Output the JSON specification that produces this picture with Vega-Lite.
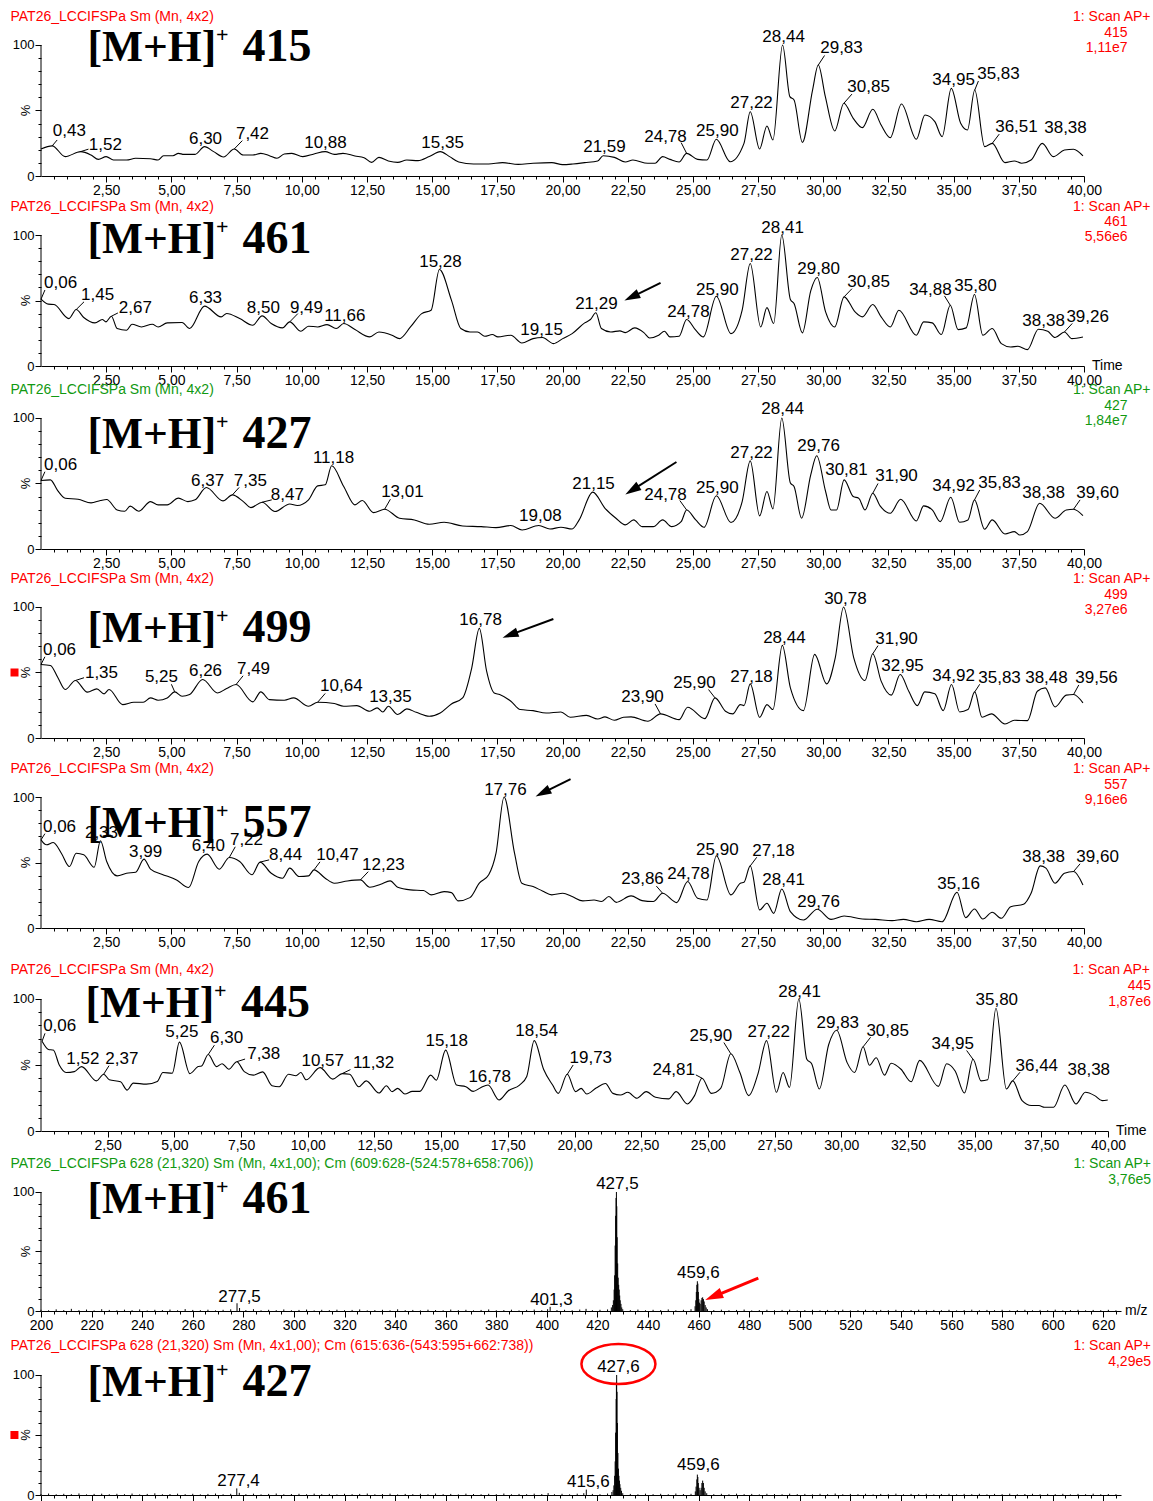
{
"$schema": "https://vega.github.io/schema/vega-lite/v6.json",
"background": "white",
"padding": {"left": 10, "top": 5, "right": 0, "bottom": 0},
"bounds": "flush",
"spacing": 30,
"config": {"view": {"stroke": null}, "axis": {"labelFont": "Liberation Sans", "labelColor": "black", "tickColor": "black", "domainColor": "black", "grid": false, "title": null, "tickCount": 1000}, "text": {"font": "Liberation Sans", "color": "black"}},
"datasets": {
"c1": [{"t":0,"v":20.6},{"t":0.43,"v":23},{"t":0.93,"v":14.8},{"t":1.52,"v":18.6},{"t":1.92,"v":16},{"t":2.2,"v":12.7},{"t":2.5,"v":14.8},{"t":2.78,"v":12.2},{"t":3.28,"v":12.2},{"t":3.63,"v":13.5},{"t":4.2,"v":13.2},{"t":4.49,"v":12.2},{"t":4.7,"v":15.5},{"t":5.06,"v":15.5},{"t":5.27,"v":17.3},{"t":5.48,"v":16.5},{"t":5.91,"v":16.5},{"t":6.27,"v":22.4},{"t":6.62,"v":18.6},{"t":7.0,"v":14.5},{"t":7.41,"v":20.6},{"t":7.76,"v":16},{"t":8.12,"v":16},{"t":8.43,"v":17.3},{"t":8.76,"v":15.5},{"t":9.05,"v":13.5},{"t":9.33,"v":16.8},{"t":9.62,"v":17.3},{"t":10.04,"v":14.8},{"t":10.47,"v":16.8},{"t":10.9,"v":18.6},{"t":11.25,"v":16.5},{"t":11.58,"v":17.3},{"t":12.04,"v":15.3},{"t":12.39,"v":14},{"t":12.68,"v":10.4},{"t":12.96,"v":14.2},{"t":13.32,"v":11.5},{"t":13.68,"v":10.4},{"t":14.03,"v":12.2},{"t":14.46,"v":11.7},{"t":14.89,"v":14.8},{"t":15.31,"v":18.6},{"t":15.67,"v":14.8},{"t":16.02,"v":10.7},{"t":16.59,"v":9.2},{"t":17.17,"v":9.2},{"t":17.7,"v":10.2},{"t":18.3,"v":8.9},{"t":18.87,"v":9.7},{"t":19.59,"v":10.2},{"t":20.0,"v":8.7},{"t":20.4,"v":9.2},{"t":20.85,"v":10.2},{"t":21.35,"v":11.5},{"t":21.56,"v":15.5},{"t":21.99,"v":14.2},{"t":22.41,"v":10.7},{"t":22.7,"v":12.2},{"t":23.27,"v":9.7},{"t":23.55,"v":9.7},{"t":23.84,"v":14.8},{"t":24.12,"v":12.7},{"t":24.47,"v":10.7},{"t":24.76,"v":17.3},{"t":25.18,"v":12.7},{"t":25.54,"v":12.2},{"t":25.9,"v":28},{"t":26.43,"v":10.9},{"t":26.96,"v":24.9},{"t":27.2,"v":49.1},{"t":27.56,"v":20.6},{"t":27.84,"v":38.2},{"t":28.07,"v":27.5},{"t":28.44,"v":100},{"t":28.72,"v":60.6},{"t":28.88,"v":58},{"t":29.2,"v":25.7},{"t":29.59,"v":65.6},{"t":29.81,"v":84.7},{"t":30.08,"v":60.6},{"t":30.44,"v":34.4},{"t":30.79,"v":55.5},{"t":31.15,"v":44},{"t":31.5,"v":36.9},{"t":31.9,"v":50.9},{"t":32.22,"v":38.9},{"t":32.57,"v":29.3},{"t":33.0,"v":55},{"t":33.57,"v":28},{"t":33.9,"v":46.6},{"t":34.28,"v":41.5},{"t":34.56,"v":30},{"t":34.91,"v":66.9},{"t":35.27,"v":40.2},{"t":35.53,"v":35.1},{"t":35.81,"v":65.6},{"t":36.19,"v":22.4},{"t":36.48,"v":24.9},{"t":36.97,"v":10.2},{"t":37.33,"v":11.5},{"t":37.61,"v":9.7},{"t":37.97,"v":12.2},{"t":38.4,"v":24.9},{"t":38.82,"v":14.8},{"t":39.25,"v":19.8},{"t":39.6,"v":20.4},{"t":39.96,"v":15.3}],
"c2": [{"t":0,"v":51},{"t":0.28,"v":47.2},{"t":0.5,"v":46.9},{"t":1.07,"v":36.2},{"t":1.35,"v":43.1},{"t":1.64,"v":37},{"t":2.07,"v":32.9},{"t":2.35,"v":35.5},{"t":2.49,"v":33.7},{"t":2.7,"v":38},{"t":2.92,"v":28.6},{"t":3.28,"v":27.3},{"t":3.49,"v":31.9},{"t":3.85,"v":29.8},{"t":4.27,"v":31.9},{"t":4.49,"v":29.8},{"t":4.84,"v":32.9},{"t":5.41,"v":33.2},{"t":5.7,"v":28.6},{"t":6.27,"v":45.7},{"t":6.91,"v":37.5},{"t":7.12,"v":40.1},{"t":7.62,"v":36.2},{"t":8.12,"v":31.1},{"t":8.48,"v":38.3},{"t":8.83,"v":32.4},{"t":9.26,"v":29.1},{"t":9.54,"v":33.7},{"t":9.97,"v":26.5},{"t":10.26,"v":30.4},{"t":10.61,"v":29.8},{"t":10.97,"v":31.6},{"t":11.32,"v":28.6},{"t":11.61,"v":32.4},{"t":12.04,"v":27.8},{"t":12.61,"v":22.2},{"t":12.96,"v":26},{"t":13.46,"v":23.5},{"t":13.75,"v":20.9},{"t":14.17,"v":29.8},{"t":14.6,"v":40},{"t":14.96,"v":42.6},{"t":15.28,"v":73.7},{"t":15.74,"v":50.3},{"t":16.1,"v":28.6},{"t":16.45,"v":26},{"t":16.74,"v":26},{"t":17.02,"v":22.7},{"t":17.31,"v":24},{"t":17.52,"v":22.2},{"t":18.02,"v":23.5},{"t":18.44,"v":17.6},{"t":18.87,"v":20.9},{"t":19.23,"v":21.7},{"t":19.66,"v":17.1},{"t":20.01,"v":20.9},{"t":20.37,"v":24.7},{"t":20.85,"v":32.9},{"t":21.07,"v":35.5},{"t":21.28,"v":40.6},{"t":21.49,"v":28.6},{"t":21.85,"v":26},{"t":22.2,"v":26.8},{"t":22.41,"v":25.5},{"t":22.77,"v":29.1},{"t":23.13,"v":25.3},{"t":23.34,"v":21.4},{"t":23.69,"v":23.5},{"t":23.91,"v":26.5},{"t":24.12,"v":22.2},{"t":24.47,"v":22.7},{"t":24.76,"v":35.5},{"t":25.11,"v":27.3},{"t":25.4,"v":22.2},{"t":25.9,"v":53.3},{"t":26.46,"v":24.7},{"t":26.89,"v":42.6},{"t":27.2,"v":78.3},{"t":27.6,"v":29.8},{"t":27.84,"v":44.6},{"t":28.1,"v":32.4},{"t":28.41,"v":100},{"t":28.74,"v":50.8},{"t":28.88,"v":47.7},{"t":29.2,"v":25.3},{"t":29.52,"v":57.4},{"t":29.77,"v":67.6},{"t":30.09,"v":41.3},{"t":30.44,"v":29.8},{"t":30.8,"v":52.8},{"t":31.22,"v":41.3},{"t":31.5,"v":37.5},{"t":31.9,"v":46.9},{"t":32.22,"v":37.5},{"t":32.57,"v":29.8},{"t":32.9,"v":42.6},{"t":33.57,"v":23.5},{"t":33.85,"v":33.7},{"t":34.18,"v":32.9},{"t":34.53,"v":24},{"t":34.87,"v":46.4},{"t":35.17,"v":27.8},{"t":35.48,"v":29.1},{"t":35.8,"v":54.6},{"t":36.12,"v":23.5},{"t":36.48,"v":28.6},{"t":36.83,"v":17.1},{"t":37.19,"v":14.5},{"t":37.47,"v":15.1},{"t":37.83,"v":12.5},{"t":38.25,"v":28.1},{"t":38.61,"v":26.5},{"t":38.89,"v":21.7},{"t":39.25,"v":26},{"t":39.53,"v":20.9},{"t":39.96,"v":22.2}],
"c3": [{"t":0,"v":52.3},{"t":0.36,"v":52.8},{"t":0.64,"v":44.6},{"t":0.93,"v":38.8},{"t":1.42,"v":38},{"t":1.92,"v":35.2},{"t":2.28,"v":37},{"t":2.52,"v":37.8},{"t":2.92,"v":29.8},{"t":3.21,"v":28.8},{"t":3.42,"v":32.7},{"t":3.75,"v":28.8},{"t":4.2,"v":36.2},{"t":4.49,"v":33.7},{"t":4.84,"v":33.7},{"t":5.27,"v":38.8},{"t":5.63,"v":36.2},{"t":5.91,"v":37.5},{"t":6.34,"v":46.9},{"t":6.98,"v":36.7},{"t":7.34,"v":41.3},{"t":7.76,"v":36.2},{"t":8.05,"v":31.6},{"t":8.48,"v":35.7},{"t":8.97,"v":28.6},{"t":9.54,"v":34.4},{"t":9.83,"v":33.2},{"t":10.26,"v":37.5},{"t":10.61,"v":48.2},{"t":10.9,"v":49},{"t":11.15,"v":63.5},{"t":11.61,"v":47.7},{"t":12.04,"v":33.7},{"t":12.32,"v":37},{"t":12.75,"v":27.8},{"t":13.18,"v":30.4},{"t":13.75,"v":23.5},{"t":14.32,"v":22.2},{"t":14.89,"v":18.9},{"t":15.46,"v":20.4},{"t":16.17,"v":17.6},{"t":16.88,"v":17.1},{"t":17.45,"v":16.3},{"t":18.02,"v":17.9},{"t":18.45,"v":14.5},{"t":19.09,"v":17.9},{"t":19.52,"v":15.3},{"t":19.94,"v":16.6},{"t":20.37,"v":15.3},{"t":20.64,"v":22.2},{"t":21.16,"v":43.4},{"t":21.63,"v":31.1},{"t":22.05,"v":23.5},{"t":22.41,"v":18.4},{"t":22.73,"v":22.2},{"t":23.05,"v":17.1},{"t":23.48,"v":17.1},{"t":23.84,"v":22.2},{"t":24.19,"v":17.1},{"t":24.55,"v":20.9},{"t":24.76,"v":29.8},{"t":25.11,"v":22.2},{"t":25.43,"v":16.6},{"t":25.9,"v":40.6},{"t":26.46,"v":20.2},{"t":26.89,"v":36.2},{"t":27.2,"v":67.3},{"t":27.56,"v":25.3},{"t":27.84,"v":43.9},{"t":28.07,"v":30.6},{"t":28.41,"v":100},{"t":28.74,"v":50.3},{"t":28.88,"v":47.7},{"t":29.17,"v":23.5},{"t":29.52,"v":56.6},{"t":29.75,"v":71.2},{"t":30.09,"v":43.9},{"t":30.3,"v":29.8},{"t":30.51,"v":29.8},{"t":30.8,"v":52.8},{"t":31.15,"v":40},{"t":31.36,"v":38.8},{"t":31.6,"v":29.8},{"t":31.9,"v":42.6},{"t":32.18,"v":32.9},{"t":32.57,"v":27.3},{"t":32.97,"v":38},{"t":33.57,"v":21.4},{"t":33.85,"v":32.9},{"t":34.18,"v":29.8},{"t":34.49,"v":20.9},{"t":34.89,"v":39.5},{"t":35.23,"v":20.4},{"t":35.55,"v":22.2},{"t":35.8,"v":37.5},{"t":36.19,"v":15.1},{"t":36.48,"v":22.2},{"t":36.97,"v":11.5},{"t":37.33,"v":13.3},{"t":37.54,"v":10.7},{"t":37.83,"v":13.3},{"t":38.3,"v":34.9},{"t":38.89,"v":23.5},{"t":39.32,"v":29.8},{"t":39.6,"v":30.4},{"t":39.96,"v":25.5}],
"c4": [{"t":0,"v":56.1},{"t":0.36,"v":55.4},{"t":0.64,"v":46.4},{"t":0.93,"v":37},{"t":1.32,"v":43.9},{"t":1.78,"v":35},{"t":2.14,"v":37.5},{"t":2.42,"v":33.7},{"t":2.61,"v":37},{"t":3.13,"v":25.5},{"t":3.56,"v":27.3},{"t":3.92,"v":27.3},{"t":4.2,"v":30.6},{"t":4.49,"v":28.8},{"t":4.84,"v":30.6},{"t":5.13,"v":35.2},{"t":5.41,"v":31.9},{"t":5.7,"v":33.2},{"t":6.2,"v":44.6},{"t":6.77,"v":34.4},{"t":7.12,"v":37.8},{"t":7.48,"v":40.8},{"t":8.12,"v":27.6},{"t":8.43,"v":35.2},{"t":8.76,"v":29.3},{"t":9.33,"v":28.8},{"t":9.69,"v":30.6},{"t":10.26,"v":24.2},{"t":10.61,"v":27.3},{"t":11.25,"v":26.3},{"t":11.61,"v":24.2},{"t":12.11,"v":24.7},{"t":12.61,"v":20.4},{"t":12.89,"v":23},{"t":13.11,"v":19.9},{"t":13.32,"v":24.2},{"t":13.68,"v":17.9},{"t":14.03,"v":22.2},{"t":14.39,"v":19.6},{"t":14.89,"v":16.6},{"t":15.31,"v":19.1},{"t":15.74,"v":26},{"t":16.17,"v":30.6},{"t":16.52,"v":53.6},{"t":16.81,"v":83.7},{"t":17.09,"v":51},{"t":17.38,"v":34.4},{"t":17.59,"v":33.2},{"t":18.02,"v":28.1},{"t":18.38,"v":21.7},{"t":18.87,"v":20.9},{"t":19.37,"v":19.1},{"t":19.94,"v":19.9},{"t":20.3,"v":15.8},{"t":20.92,"v":17.3},{"t":21.35,"v":14.5},{"t":21.63,"v":16.1},{"t":21.99,"v":13.5},{"t":22.34,"v":15.8},{"t":22.63,"v":16.1},{"t":23.27,"v":12.8},{"t":23.76,"v":18.4},{"t":24.47,"v":14},{"t":24.8,"v":23.5},{"t":25.46,"v":14.8},{"t":25.85,"v":30.6},{"t":26.25,"v":20.4},{"t":26.53,"v":18.4},{"t":26.82,"v":25.5},{"t":26.96,"v":24.7},{"t":27.2,"v":41.3},{"t":27.56,"v":15.8},{"t":27.84,"v":25.5},{"t":28.07,"v":21.7},{"t":28.43,"v":70.7},{"t":28.74,"v":38.3},{"t":29.24,"v":20.9},{"t":29.67,"v":63.8},{"t":30.13,"v":41.3},{"t":30.46,"v":61.2},{"t":30.78,"v":100},{"t":31.17,"v":61.2},{"t":31.6,"v":43.9},{"t":31.9,"v":64.3},{"t":32.22,"v":43.4},{"t":32.61,"v":32.7},{"t":32.95,"v":48.5},{"t":33.28,"v":35.7},{"t":33.61,"v":24.7},{"t":33.89,"v":35.2},{"t":34.28,"v":33.7},{"t":34.6,"v":20.9},{"t":34.92,"v":40.8},{"t":35.23,"v":19.9},{"t":35.55,"v":21.7},{"t":35.81,"v":35.2},{"t":36.09,"v":15.8},{"t":36.45,"v":18.4},{"t":36.97,"v":10.7},{"t":37.33,"v":13.5},{"t":37.83,"v":13.3},{"t":38.21,"v":35.7},{"t":38.51,"v":38.3},{"t":38.89,"v":23.7},{"t":39.32,"v":32.7},{"t":39.6,"v":33.2},{"t":39.96,"v":26.8}],
"c5": [{"t":0,"v":67.3},{"t":0.21,"v":63.5},{"t":0.47,"v":65.3},{"t":0.78,"v":57.1},{"t":1.09,"v":46.9},{"t":1.35,"v":57.1},{"t":1.64,"v":55.9},{"t":2.04,"v":46.4},{"t":2.28,"v":66.6},{"t":2.52,"v":50.8},{"t":2.92,"v":39.8},{"t":3.28,"v":41.8},{"t":3.63,"v":42.6},{"t":3.95,"v":52.6},{"t":4.2,"v":44.9},{"t":4.63,"v":41.1},{"t":5.2,"v":36.7},{"t":5.66,"v":30.9},{"t":6.05,"v":50.8},{"t":6.37,"v":56.4},{"t":6.84,"v":44.9},{"t":7.22,"v":53.8},{"t":7.62,"v":50.8},{"t":8.09,"v":40.6},{"t":8.4,"v":50.3},{"t":8.83,"v":41.8},{"t":9.26,"v":38},{"t":9.54,"v":45.7},{"t":9.9,"v":39.3},{"t":10.26,"v":39.8},{"t":10.47,"v":44.4},{"t":10.9,"v":38},{"t":11.25,"v":34.2},{"t":11.75,"v":35.9},{"t":12.25,"v":36.7},{"t":12.61,"v":31.1},{"t":13.03,"v":33.4},{"t":13.39,"v":36},{"t":13.68,"v":31.1},{"t":14.17,"v":29.1},{"t":14.67,"v":28.6},{"t":14.96,"v":25.3},{"t":15.46,"v":27.8},{"t":15.74,"v":27},{"t":16.0,"v":20.7},{"t":16.45,"v":23.2},{"t":16.81,"v":34.2},{"t":17.17,"v":40.6},{"t":17.45,"v":57.1},{"t":17.76,"v":100},{"t":18.16,"v":57.1},{"t":18.44,"v":34.2},{"t":18.87,"v":31.6},{"t":19.23,"v":28.3},{"t":19.59,"v":25.3},{"t":20.01,"v":26.5},{"t":20.37,"v":24},{"t":20.78,"v":20.7},{"t":21.21,"v":21.4},{"t":21.49,"v":20.2},{"t":21.78,"v":24},{"t":22.06,"v":19.6},{"t":22.63,"v":24.5},{"t":23.05,"v":20.9},{"t":23.48,"v":20.2},{"t":23.84,"v":26.5},{"t":24.38,"v":19.4},{"t":24.8,"v":35.5},{"t":25.18,"v":22.7},{"t":25.54,"v":21.4},{"t":25.9,"v":55.1},{"t":26.46,"v":25.3},{"t":26.82,"v":34.2},{"t":26.96,"v":34.9},{"t":27.2,"v":47.4},{"t":27.56,"v":13.8},{"t":27.84,"v":18.9},{"t":28.1,"v":11.2},{"t":28.41,"v":29.8},{"t":28.74,"v":12.5},{"t":29.24,"v":6.1},{"t":29.77,"v":14.3},{"t":30.3,"v":6.6},{"t":30.8,"v":9.2},{"t":31.5,"v":6.9},{"t":32.0,"v":6.6},{"t":32.64,"v":5.6},{"t":33.07,"v":6.6},{"t":33.57,"v":4.8},{"t":34.06,"v":6.6},{"t":34.56,"v":4.8},{"t":35.13,"v":27.3},{"t":35.46,"v":7.9},{"t":35.8,"v":14.5},{"t":36.12,"v":6.9},{"t":36.48,"v":12},{"t":36.83,"v":7.4},{"t":37.19,"v":16.3},{"t":37.68,"v":18.1},{"t":37.97,"v":26.5},{"t":38.32,"v":47.4},{"t":38.54,"v":45.7},{"t":38.89,"v":34.2},{"t":39.25,"v":41.8},{"t":39.6,"v":43.1},{"t":39.96,"v":32.9}],
"c6": [{"t":0.04,"v":68},{"t":0.28,"v":61.8},{"t":0.46,"v":61.3},{"t":0.69,"v":49.8},{"t":0.94,"v":44.3},{"t":1.25,"v":45},{"t":1.52,"v":48.8},{"t":2.08,"v":38},{"t":2.35,"v":43},{"t":2.56,"v":38.8},{"t":2.98,"v":37.3},{"t":3.23,"v":31},{"t":3.46,"v":36.3},{"t":3.95,"v":35.5},{"t":4.36,"v":37.5},{"t":4.57,"v":44.3},{"t":4.92,"v":43.8},{"t":5.19,"v":67.3},{"t":5.58,"v":43.5},{"t":5.89,"v":48.8},{"t":6.02,"v":49.3},{"t":6.27,"v":58},{"t":6.58,"v":48.8},{"t":6.79,"v":51},{"t":7.04,"v":46.8},{"t":7.34,"v":52.5},{"t":7.62,"v":45},{"t":7.96,"v":42.3},{"t":8.31,"v":44.8},{"t":8.66,"v":34.3},{"t":8.93,"v":33.5},{"t":9.28,"v":43},{"t":9.56,"v":41.8},{"t":9.74,"v":44.3},{"t":9.94,"v":38.8},{"t":10.46,"v":48},{"t":10.94,"v":39.3},{"t":11.29,"v":43.5},{"t":11.57,"v":43},{"t":11.91,"v":33.5},{"t":12.19,"v":38},{"t":12.67,"v":28.8},{"t":12.95,"v":34.3},{"t":13.16,"v":29.8},{"t":13.37,"v":32.3},{"t":13.64,"v":28},{"t":13.92,"v":30},{"t":14.2,"v":30},{"t":14.61,"v":42.3},{"t":14.82,"v":38.5},{"t":15.17,"v":61.3},{"t":15.58,"v":34.8},{"t":15.93,"v":33.5},{"t":16.2,"v":30},{"t":16.48,"v":32.8},{"t":16.76,"v":34.8},{"t":17.17,"v":23.5},{"t":17.52,"v":30.5},{"t":17.94,"v":34.8},{"t":18.21,"v":41.3},{"t":18.49,"v":68.5},{"t":18.84,"v":46.8},{"t":19.18,"v":34.8},{"t":19.39,"v":28.5},{"t":19.73,"v":43},{"t":20.04,"v":29.8},{"t":20.25,"v":32.3},{"t":20.46,"v":28},{"t":20.81,"v":32.5},{"t":21.16,"v":36},{"t":21.44,"v":28.5},{"t":21.72,"v":27.3},{"t":22.0,"v":29.3},{"t":22.34,"v":24.8},{"t":22.69,"v":29.8},{"t":23.04,"v":25.5},{"t":23.53,"v":24.3},{"t":23.81,"v":29.8},{"t":24.23,"v":20.5},{"t":24.5,"v":26.8},{"t":24.78,"v":40},{"t":25.13,"v":28.5},{"t":25.48,"v":32.3},{"t":25.86,"v":58.5},{"t":26.2,"v":44.3},{"t":26.53,"v":26.8},{"t":26.88,"v":43.5},{"t":27.2,"v":68.5},{"t":27.57,"v":29.3},{"t":27.82,"v":44.3},{"t":28.06,"v":33},{"t":28.41,"v":100},{"t":28.71,"v":54.3},{"t":28.89,"v":51},{"t":29.18,"v":31.8},{"t":29.53,"v":65.5},{"t":29.83,"v":76.3},{"t":30.22,"v":51.8},{"t":30.5,"v":44.3},{"t":30.82,"v":63.8},{"t":31.06,"v":49.8},{"t":31.31,"v":55.5},{"t":31.62,"v":42.3},{"t":31.87,"v":51.3},{"t":32.24,"v":46.8},{"t":32.62,"v":37.3},{"t":32.94,"v":53.5},{"t":33.64,"v":33.8},{"t":33.95,"v":51},{"t":34.27,"v":45.5},{"t":34.62,"v":28.8},{"t":34.94,"v":54.3},{"t":35.24,"v":38},{"t":35.49,"v":38.8},{"t":35.8,"v":93},{"t":36.19,"v":31.8},{"t":36.43,"v":38},{"t":36.78,"v":23},{"t":37.13,"v":19.3},{"t":37.41,"v":19.3},{"t":37.62,"v":18},{"t":37.96,"v":18},{"t":38.38,"v":34.8},{"t":38.8,"v":20.5},{"t":39.15,"v":29.3},{"t":39.5,"v":26.8},{"t":39.78,"v":23},{"t":39.99,"v":23.5}],
"s7": [{"mz":200,"v":1.0},{"mz":203,"v":0.6},{"mz":206,"v":1.4},{"mz":209,"v":0.8},{"mz":212,"v":1.8},{"mz":215,"v":0.7},{"mz":218,"v":1.2},{"mz":221,"v":0.5},{"mz":224,"v":1.5},{"mz":227,"v":0.9},{"mz":230,"v":0.6},{"mz":233,"v":1.1},{"mz":236,"v":0.7},{"mz":239,"v":1.3},{"mz":242,"v":0.5},{"mz":245,"v":1.0},{"mz":248,"v":0.8},{"mz":251,"v":1.2},{"mz":254,"v":0.6},{"mz":257,"v":1.6},{"mz":260,"v":0.9},{"mz":263,"v":0.7},{"mz":266,"v":1.1},{"mz":269,"v":0.5},{"mz":272,"v":1.0},{"mz":275,"v":1.4},{"mz":277.5,"v":6.5},{"mz":278.5,"v":2.5},{"mz":281,"v":0.8},{"mz":284,"v":1.5},{"mz":287,"v":0.6},{"mz":290,"v":1.0},{"mz":293,"v":0.7},{"mz":296,"v":1.3},{"mz":299,"v":0.6},{"mz":302,"v":0.9},{"mz":305,"v":1.2},{"mz":308,"v":0.5},{"mz":311,"v":1.0},{"mz":314,"v":0.7},{"mz":317,"v":1.1},{"mz":320,"v":0.6},{"mz":323,"v":0.9},{"mz":326,"v":1.3},{"mz":329,"v":0.5},{"mz":332,"v":0.8},{"mz":335,"v":1.0},{"mz":338,"v":0.6},{"mz":341,"v":1.4},{"mz":344,"v":0.7},{"mz":347,"v":0.9},{"mz":350,"v":0.5},{"mz":353,"v":1.1},{"mz":356,"v":0.8},{"mz":359,"v":0.6},{"mz":362,"v":1.2},{"mz":365,"v":0.7},{"mz":368,"v":1.0},{"mz":371,"v":0.5},{"mz":374,"v":0.9},{"mz":377,"v":1.3},{"mz":380,"v":0.6},{"mz":383,"v":0.8},{"mz":386,"v":1.1},{"mz":389,"v":0.5},{"mz":392,"v":0.9},{"mz":395,"v":1.2},{"mz":398,"v":0.7},{"mz":400.3,"v":1.5},{"mz":401.3,"v":3.5},{"mz":404,"v":0.8},{"mz":407,"v":1.0},{"mz":410,"v":0.6},{"mz":413,"v":1.2},{"mz":415.5,"v":1.8},{"mz":418,"v":0.7},{"mz":421,"v":1.0},{"mz":424,"v":1.3},{"mz":425.5,"v":3},{"mz":426,"v":5},{"mz":426.3,"v":9},{"mz":426.6,"v":18},{"mz":426.8,"v":30},{"mz":427.0,"v":55},{"mz":427.2,"v":80},{"mz":427.35,"v":95},{"mz":427.5,"v":100},{"mz":427.65,"v":88},{"mz":427.8,"v":62},{"mz":428.0,"v":40},{"mz":428.2,"v":28},{"mz":428.4,"v":22},{"mz":428.6,"v":18},{"mz":428.8,"v":13},{"mz":429.0,"v":9},{"mz":429.3,"v":6},{"mz":429.6,"v":3},{"mz":430,"v":1.5},{"mz":433,"v":0.8},{"mz":436,"v":1.2},{"mz":439,"v":0.6},{"mz":442,"v":1.0},{"mz":445,"v":0.8},{"mz":448,"v":1.3},{"mz":451,"v":0.6},{"mz":454,"v":1.0},{"mz":457,"v":1.5},{"mz":458.6,"v":4},{"mz":458.9,"v":9},{"mz":459.1,"v":16},{"mz":459.3,"v":22},{"mz":459.5,"v":25},{"mz":459.7,"v":23},{"mz":459.9,"v":16},{"mz":460.1,"v":10},{"mz":460.3,"v":7},{"mz":460.6,"v":6},{"mz":461.0,"v":9},{"mz":461.3,"v":11},{"mz":461.6,"v":11.5},{"mz":461.9,"v":10},{"mz":462.2,"v":8},{"mz":462.6,"v":5},{"mz":463,"v":3},{"mz":463.5,"v":1.5},{"mz":466,"v":0.8},{"mz":469,"v":1.1},{"mz":472,"v":0.6},{"mz":475,"v":0.9},{"mz":478,"v":1.2},{"mz":481,"v":0.5},{"mz":484,"v":0.8},{"mz":487,"v":1.0},{"mz":490,"v":0.6},{"mz":493,"v":0.9},{"mz":496,"v":1.1},{"mz":499,"v":0.5},{"mz":502,"v":0.8},{"mz":505,"v":1.0},{"mz":508,"v":0.6},{"mz":511,"v":0.9},{"mz":514,"v":0.7},{"mz":517,"v":1.1},{"mz":520,"v":0.5},{"mz":523,"v":0.8},{"mz":526,"v":1.0},{"mz":529,"v":0.6},{"mz":532,"v":0.9},{"mz":535,"v":0.7},{"mz":538,"v":1.0},{"mz":541,"v":0.5},{"mz":544,"v":0.8},{"mz":547,"v":1.1},{"mz":550,"v":0.6},{"mz":553,"v":0.9},{"mz":556,"v":0.7},{"mz":559,"v":1.0},{"mz":562,"v":0.5},{"mz":565,"v":0.8},{"mz":568,"v":1.1},{"mz":571,"v":0.6},{"mz":574,"v":0.9},{"mz":577,"v":0.7},{"mz":580,"v":1.0},{"mz":583,"v":0.5},{"mz":586,"v":0.8},{"mz":589,"v":1.0},{"mz":592,"v":0.6},{"mz":595,"v":0.9},{"mz":598,"v":0.7},{"mz":601,"v":1.1},{"mz":604,"v":0.5},{"mz":607,"v":0.8},{"mz":610,"v":1.0},{"mz":613,"v":0.6},{"mz":616,"v":0.9},{"mz":619,"v":0.7},{"mz":622,"v":1.0},{"mz":625,"v":0.6}],
"s8": [{"mz":200,"v":0.8},{"mz":203,"v":1.2},{"mz":206,"v":0.6},{"mz":209,"v":1.0},{"mz":212,"v":0.7},{"mz":215,"v":1.3},{"mz":218,"v":0.5},{"mz":221,"v":0.9},{"mz":224,"v":1.1},{"mz":227,"v":0.6},{"mz":230,"v":1.0},{"mz":233,"v":0.7},{"mz":236,"v":1.2},{"mz":239,"v":0.5},{"mz":242,"v":0.9},{"mz":245,"v":1.4},{"mz":248,"v":0.6},{"mz":251,"v":0.8},{"mz":254,"v":1.1},{"mz":257,"v":0.7},{"mz":260,"v":1.0},{"mz":263,"v":0.5},{"mz":266,"v":0.9},{"mz":269,"v":1.2},{"mz":272,"v":0.6},{"mz":275,"v":1.0},{"mz":277.4,"v":5.5},{"mz":278.4,"v":1.8},{"mz":281,"v":0.7},{"mz":284,"v":1.1},{"mz":287,"v":0.5},{"mz":290,"v":0.9},{"mz":293,"v":1.2},{"mz":296,"v":0.6},{"mz":299,"v":0.8},{"mz":302,"v":1.0},{"mz":305,"v":0.6},{"mz":308,"v":1.1},{"mz":311,"v":0.7},{"mz":314,"v":0.9},{"mz":317,"v":0.5},{"mz":320,"v":1.0},{"mz":323,"v":0.7},{"mz":326,"v":0.9},{"mz":329,"v":1.2},{"mz":332,"v":0.6},{"mz":335,"v":0.8},{"mz":338,"v":1.1},{"mz":341,"v":0.5},{"mz":344,"v":0.9},{"mz":347,"v":0.7},{"mz":350,"v":1.0},{"mz":353,"v":0.6},{"mz":356,"v":1.2},{"mz":359,"v":0.7},{"mz":362,"v":0.9},{"mz":365,"v":0.5},{"mz":368,"v":1.1},{"mz":371,"v":0.8},{"mz":374,"v":0.6},{"mz":377,"v":1.0},{"mz":380,"v":0.7},{"mz":383,"v":1.2},{"mz":386,"v":0.6},{"mz":389,"v":0.9},{"mz":392,"v":0.7},{"mz":395,"v":1.1},{"mz":398,"v":0.8},{"mz":400.5,"v":1.6},{"mz":403,"v":0.7},{"mz":406,"v":1.0},{"mz":409,"v":0.6},{"mz":412,"v":1.1},{"mz":414.6,"v":1.5},{"mz":415.6,"v":4.5},{"mz":418,"v":0.9},{"mz":421,"v":0.7},{"mz":424,"v":1.2},{"mz":425.7,"v":2.5},{"mz":426.2,"v":4},{"mz":426.5,"v":8},{"mz":426.8,"v":16},{"mz":427.0,"v":28},{"mz":427.2,"v":52},{"mz":427.4,"v":80},{"mz":427.5,"v":94},{"mz":427.6,"v":100},{"mz":427.75,"v":86},{"mz":427.9,"v":60},{"mz":428.1,"v":35},{"mz":428.3,"v":22},{"mz":428.5,"v":16},{"mz":428.7,"v":12},{"mz":428.9,"v":9},{"mz":429.2,"v":6},{"mz":429.5,"v":3.5},{"mz":430,"v":1.5},{"mz":433,"v":0.9},{"mz":436,"v":0.6},{"mz":439,"v":1.1},{"mz":442,"v":0.7},{"mz":445,"v":1.0},{"mz":448,"v":0.6},{"mz":451,"v":1.2},{"mz":454,"v":0.8},{"mz":457,"v":1.0},{"mz":458.7,"v":3},{"mz":459.0,"v":7},{"mz":459.3,"v":13},{"mz":459.5,"v":17},{"mz":459.7,"v":15},{"mz":459.9,"v":10},{"mz":460.2,"v":6},{"mz":460.6,"v":4},{"mz":461.0,"v":6},{"mz":461.3,"v":10},{"mz":461.6,"v":12},{"mz":461.9,"v":10},{"mz":462.2,"v":6},{"mz":462.6,"v":3},{"mz":463.2,"v":1.5},{"mz":466,"v":0.7},{"mz":469,"v":1.0},{"mz":472,"v":0.6},{"mz":475,"v":1.1},{"mz":478,"v":0.7},{"mz":481,"v":0.9},{"mz":484,"v":0.5},{"mz":487,"v":1.0},{"mz":490,"v":0.8},{"mz":493,"v":0.6},{"mz":496,"v":1.1},{"mz":499,"v":0.7},{"mz":502,"v":0.9},{"mz":505,"v":0.5},{"mz":508,"v":1.0},{"mz":511,"v":0.7},{"mz":514,"v":1.2},{"mz":517,"v":0.6},{"mz":520,"v":0.9},{"mz":523,"v":0.7},{"mz":526,"v":1.0},{"mz":529,"v":0.5},{"mz":532,"v":0.9},{"mz":535,"v":0.7},{"mz":538,"v":1.1},{"mz":541,"v":0.6},{"mz":544,"v":0.9},{"mz":547,"v":0.7},{"mz":550,"v":1.0},{"mz":553,"v":0.5},{"mz":556,"v":0.8},{"mz":559,"v":1.0},{"mz":562,"v":0.6},{"mz":565,"v":0.9},{"mz":568,"v":0.7},{"mz":571,"v":1.0},{"mz":574,"v":0.5},{"mz":577,"v":0.9},{"mz":580,"v":0.7},{"mz":583,"v":1.1},{"mz":586,"v":0.6},{"mz":589,"v":0.8},{"mz":592,"v":1.0},{"mz":595,"v":0.6},{"mz":598,"v":0.9},{"mz":601,"v":0.7},{"mz":604,"v":1.0},{"mz":607,"v":0.5},{"mz":610,"v":0.9},{"mz":613,"v":0.7},{"mz":616,"v":1.1},{"mz":619,"v":0.6},{"mz":622,"v":0.8},{"mz":625,"v":0.7}],
"l1": [{"label":"0,43","t":1.09,"v":30.5},{"label":"1,52","t":2.47,"v":19.8},{"label":"6,30","t":6.31,"v":24.4},{"label":"7,42","t":8.11,"v":28.2},{"label":"10,88","t":10.91,"v":21.4},{"label":"15,35","t":15.4,"v":21.4},{"label":"21,59","t":21.61,"v":18.3},{"label":"24,78","t":23.95,"v":26.0},{"label":"25,90","t":25.94,"v":30.5},{"label":"27,22","t":27.25,"v":51.9},{"label":"28,44","t":28.48,"v":102.3},{"label":"29,83","t":30.7,"v":93.9},{"label":"30,85","t":31.74,"v":64.1},{"label":"34,95","t":35.0,"v":69.5},{"label":"35,83","t":36.72,"v":74.0},{"label":"36,51","t":37.41,"v":33.6},{"label":"38,38","t":39.29,"v":32.8}],
"l2": [{"label":"0,06","t":0.75,"v":59.5},{"label":"1,45","t":2.17,"v":50.4},{"label":"2,67","t":3.62,"v":40.5},{"label":"6,33","t":6.31,"v":48.1},{"label":"8,50","t":8.53,"v":40.5},{"label":"9,49","t":10.18,"v":40.5},{"label":"11,66","t":11.65,"v":34.6},{"label":"15,28","t":15.32,"v":75.6},{"label":"19,15","t":19.2,"v":23.7},{"label":"21,29","t":21.3,"v":43.5},{"label":"24,78","t":24.83,"v":37.4},{"label":"25,90","t":25.94,"v":54.2},{"label":"27,22","t":27.25,"v":80.9},{"label":"28,41","t":28.44,"v":101.5},{"label":"29,80","t":29.82,"v":70.2},{"label":"30,85","t":31.74,"v":60.3},{"label":"34,88","t":34.11,"v":54.2},{"label":"35,80","t":35.84,"v":57.3},{"label":"38,38","t":38.45,"v":30.5},{"label":"39,26","t":40.14,"v":33.6}],
"l3": [{"label":"0,06","t":0.75,"v":60.3},{"label":"6,37","t":6.39,"v":48.1},{"label":"7,35","t":8.03,"v":48.1},{"label":"8,47","t":9.45,"v":37.4},{"label":"11,18","t":11.22,"v":65.6},{"label":"13,01","t":13.86,"v":39.7},{"label":"19,08","t":19.15,"v":21.4},{"label":"21,15","t":21.19,"v":45.8},{"label":"24,78","t":23.95,"v":37.4},{"label":"25,90","t":25.94,"v":42.7},{"label":"27,22","t":27.25,"v":69.5},{"label":"28,44","t":28.44,"v":103.1},{"label":"29,76","t":29.82,"v":74.8},{"label":"30,81","t":30.89,"v":56.5},{"label":"31,90","t":32.81,"v":51.9},{"label":"34,92","t":35.0,"v":44.3},{"label":"35,83","t":36.76,"v":46.6},{"label":"38,38","t":38.45,"v":38.9},{"label":"39,60","t":40.52,"v":38.9}],
"l4": [{"label":"0,06","t":0.71,"v":63.4},{"label":"1,35","t":2.32,"v":45.8},{"label":"5,25","t":4.62,"v":42.7},{"label":"6,26","t":6.31,"v":47.3},{"label":"7,49","t":8.15,"v":48.9},{"label":"10,64","t":11.52,"v":35.9},{"label":"13,35","t":13.4,"v":27.5},{"label":"16,78","t":16.86,"v":86.3},{"label":"23,90","t":23.07,"v":27.5},{"label":"25,90","t":25.06,"v":38.2},{"label":"27,18","t":27.25,"v":42.7},{"label":"28,44","t":28.51,"v":72.5},{"label":"30,78","t":30.85,"v":102.3},{"label":"31,90","t":32.81,"v":71.8},{"label":"32,95","t":33.04,"v":51.1},{"label":"34,92","t":35.0,"v":43.5},{"label":"35,83","t":36.76,"v":42.0},{"label":"38,48","t":38.56,"v":42.0},{"label":"39,56","t":40.48,"v":42.0}],
"l5": [{"label":"0,06","t":0.71,"v":73.3},{"label":"2,33","t":2.32,"v":68.7},{"label":"3,99","t":4.01,"v":54.2},{"label":"6,40","t":6.42,"v":58.8},{"label":"7,22","t":7.88,"v":63.4},{"label":"8,44","t":9.38,"v":51.9},{"label":"10,47","t":11.37,"v":51.9},{"label":"12,23","t":13.13,"v":44.3},{"label":"17,76","t":17.81,"v":101.5},{"label":"23,86","t":23.07,"v":33.6},{"label":"24,78","t":24.83,"v":37.4},{"label":"25,90","t":25.94,"v":55.7},{"label":"27,18","t":28.09,"v":55.0},{"label":"28,41","t":28.48,"v":32.8},{"label":"29,76","t":29.82,"v":16.0},{"label":"35,16","t":35.19,"v":29.8},{"label":"38,38","t":38.45,"v":50.4},{"label":"39,60","t":40.52,"v":50.4}],
"l6": [{"label":"0,06","t":0.7,"v":75.8},{"label":"1,52","t":1.57,"v":50.8},{"label":"2,37","t":3.03,"v":50.8},{"label":"5,25","t":5.28,"v":71.2},{"label":"6,30","t":6.96,"v":66.7},{"label":"7,38","t":8.35,"v":54.5},{"label":"10,57","t":10.56,"v":49.2},{"label":"11,32","t":12.47,"v":47.7},{"label":"15,18","t":15.21,"v":64.4},{"label":"16,78","t":16.82,"v":37.1},{"label":"18,54","t":18.58,"v":72.0},{"label":"19,73","t":20.61,"v":51.5},{"label":"24,81","t":23.72,"v":42.4},{"label":"25,90","t":25.11,"v":68.2},{"label":"27,22","t":27.28,"v":71.2},{"label":"28,41","t":28.44,"v":101.5},{"label":"29,83","t":29.87,"v":78.0},{"label":"30,85","t":31.74,"v":72.0},{"label":"34,95","t":34.18,"v":62.1},{"label":"35,80","t":35.83,"v":95.5},{"label":"36,44","t":37.33,"v":45.5},{"label":"38,38","t":39.28,"v":42.4}],
"l7": [{"label":"277,5","mz":278.5,"v":7.6},{"label":"401,3","mz":401.8,"v":5.0},{"label":"427,5","mz":427.9,"v":102.5},{"label":"459,6","mz":459.9,"v":28}],
"l8": [{"label":"277,4","mz":278.1,"v":7.5},{"label":"415,6","mz":416.4,"v":6.7},{"label":"427,6","mz":428.3,"v":102.5},{"label":"459,6","mz":459.9,"v":20.8}],
"k1": [{"t":0.43,"v":23,"t2":0.62,"v2":27.5},{"t":1.52,"v":18.6,"t2":1.82,"v2":20.5},{"t":7.41,"v":20.6,"t2":7.72,"v2":27},{"t":24.76,"v":17.3,"t2":24.55,"v2":25.5},{"t":29.81,"v":84.7,"t2":30.05,"v2":92},{"t":30.79,"v":55.5,"t2":31.1,"v2":62.5},{"t":35.81,"v":65.6,"t2":35.95,"v2":72.5},{"t":36.48,"v":24.9,"t2":36.75,"v2":32}],
"k2": [{"t":0,"v":51,"t2":0.15,"v2":58},{"t":1.35,"v":43.1,"t2":1.65,"v2":49},{"t":2.7,"v":38,"t2":2.95,"v2":40.5},{"t":9.54,"v":33.7,"t2":9.85,"v2":40},{"t":30.8,"v":52.8,"t2":31.1,"v2":59},{"t":34.87,"v":46.4,"t2":34.65,"v2":53.5},{"t":39.25,"v":26,"t2":39.55,"v2":32.5}],
"k3": [{"t":0,"v":52.3,"t2":0.15,"v2":59},{"t":7.34,"v":41.3,"t2":7.6,"v2":47},{"t":8.48,"v":35.7,"t2":8.85,"v2":37.5},{"t":13.18,"v":30.4,"t2":13.4,"v2":38},{"t":24.76,"v":29.8,"t2":24.5,"v2":37},{"t":31.9,"v":42.6,"t2":32.1,"v2":50},{"t":35.8,"v":37.5,"t2":36.0,"v2":45},{"t":39.6,"v":30.4,"t2":39.85,"v2":37.5}],
"k4": [{"t":0,"v":56.1,"t2":0.15,"v2":62},{"t":1.32,"v":43.9,"t2":1.65,"v2":46},{"t":5.13,"v":35.2,"t2":5.0,"v2":41},{"t":7.48,"v":40.8,"t2":7.75,"v2":47.5},{"t":10.61,"v":27.3,"t2":10.9,"v2":34},{"t":23.76,"v":18.4,"t2":23.55,"v2":26},{"t":25.85,"v":30.6,"t2":25.6,"v2":37},{"t":31.9,"v":64.3,"t2":32.1,"v2":70.5},{"t":35.81,"v":35.2,"t2":36.0,"v2":41},{"t":39.6,"v":33.2,"t2":39.8,"v2":40.5}],
"k5": [{"t":0,"v":67.3,"t2":0.15,"v2":72},{"t":7.22,"v":53.8,"t2":7.45,"v2":62},{"t":8.4,"v":50.3,"t2":8.75,"v2":52},{"t":10.47,"v":44.4,"t2":10.7,"v2":50.5},{"t":12.25,"v":36.7,"t2":12.55,"v2":43},{"t":23.84,"v":26.5,"t2":23.6,"v2":32},{"t":27.2,"v":47.4,"t2":27.45,"v2":54},{"t":39.6,"v":43.1,"t2":39.85,"v2":49}],
"k6": [{"t":0.04,"v":68,"t2":0.15,"v2":74},{"t":2.35,"v":43,"t2":2.55,"v2":49.5},{"t":6.27,"v":58,"t2":6.5,"v2":65},{"t":7.34,"v":52.5,"t2":7.65,"v2":54.5},{"t":11.29,"v":43.5,"t2":11.6,"v2":46.5},{"t":19.73,"v":43,"t2":19.95,"v2":50},{"t":24.78,"v":40,"t2":24.55,"v2":42.5},{"t":25.86,"v":58.5,"t2":25.6,"v2":67},{"t":30.82,"v":63.8,"t2":31.1,"v2":71},{"t":34.94,"v":54.3,"t2":34.7,"v2":61},{"t":36.43,"v":38,"t2":36.7,"v2":44.5}],
"a2": [{"t":23.76,"v":63.4,"t2":22.65,"v2":52.6}],
"a3": [{"t":24.37,"v":66.4,"t2":22.67,"v2":44.9}],
"a4": [{"t":19.65,"v":90.8,"t2":17.99,"v2":78.7}],
"a5": [{"t":20.31,"v":113.7,"t2":19.24,"v2":103.1}],
"a7": [{"mz":483.6,"v":27.7,"mz2":465.9,"v2":12.1}]
},
"vconcat": [
{"width": 1043, "height": 171, "layer": [
 {"data": {"name": "c1"}, "mark": {"type": "line", "color": "black", "strokeWidth": 1.1, "interpolate": "monotone"},
  "encoding": {"x": {"field": "t", "type": "quantitative", "scale": {"domain": [0, 40], "nice": false, "zero": false}, "axis": {"tickCount": 1000, "values": [0.5,1,1.5,2,2.5,3,3.5,4,4.5,5,5.5,6,6.5,7,7.5,8,8.5,9,9.5,10,10.5,11,11.5,12,12.5,13,13.5,14,14.5,15,15.5,16,16.5,17,17.5,18,18.5,19,19.5,20,20.5,21,21.5,22,22.5,23,23.5,24,24.5,25,25.5,26,26.5,27,27.5,28,28.5,29,29.5,30,30.5,31,31.5,32,32.5,33,33.5,34,34.5,35,35.5,36,36.5,37,37.5,38,38.5,39,39.5,40], "labelExpr": "datum.value % 2.5 == 0 ? replace(format(datum.value, '.2f'), '.', ',') : ''", "tickSize": {"condition": {"test": "datum.value % 2.5 == 0", "value": 6}, "value": 3}, "labelFontSize": 14, "labelPadding": 1, "labelFlush": false, "labelOverlap": false, "labelBound": false}},
   "y": {"field": "v", "type": "quantitative", "scale": {"domain": [0, 130.53], "nice": false, "zero": false}, "axis": {"tickCount": 1000, "values": [0,10,20,30,40,50,60,70,80,90,100], "labelExpr": "datum.value == 0 || datum.value == 100 ? format(datum.value, 'd') : ''", "tickSize": {"condition": {"test": "datum.value % 50 == 0", "value": 6}, "value": 3}, "labelFontSize": 13, "labelPadding": 1, "domain": false, "labelOverlap": false, "labelBound": false}}}},
 {"data": {"values": [{}]}, "mark": {"type": "rule", "color": "black"}, "encoding": {"x": {"datum": 0}, "y": {"datum": 0}, "y2": {"datum": 100}}},
 {"data": {"name": "k1"}, "mark": {"type": "rule", "color": "black"}, "encoding": {"x": {"field": "t", "type": "quantitative"}, "y": {"field": "v", "type": "quantitative"}, "x2": {"field": "t2"}, "y2": {"field": "v2"}}},
 {"data": {"name": "l1"}, "mark": {"type": "text", "fontSize": 17, "baseline": "alphabetic", "align": "center"}, "encoding": {"x": {"field": "t", "type": "quantitative"}, "y": {"field": "v", "type": "quantitative"}, "text": {"field": "label"}}},
 {"data": {"values": [{}]}, "mark": {"type": "text", "text": "PAT26_LCCIFSPa Sm (Mn, 4x2)", "align": "left", "baseline": "middle", "dx": -30.5, "dy": -28, "fontSize": 14, "color": "red"}, "encoding": {"x": {"datum": 0}, "y": {"datum": 100}}},
 {"data": {"values": [{}]}, "mark": {"type": "text", "text": "1: Scan AP+", "align": "right", "baseline": "middle", "dx": 66.5, "dy": -28, "fontSize": 14, "color": "red"}, "encoding": {"x": {"datum": 40}, "y": {"datum": 100}}},
 {"data": {"values": [{}]}, "mark": {"type": "text", "text": "415", "align": "right", "baseline": "middle", "dx": 43.5, "dy": -12, "fontSize": 14, "color": "red"}, "encoding": {"x": {"datum": 40}, "y": {"datum": 100}}},
 {"data": {"values": [{}]}, "mark": {"type": "text", "text": "1,11e7", "align": "right", "baseline": "middle", "dx": 43.5, "dy": 3, "fontSize": 14, "color": "red"}, "encoding": {"x": {"datum": 40}, "y": {"datum": 100}}},
 {"data": {"values": [{}]}, "mark": {"type": "text", "text": "[M+H]", "align": "left", "baseline": "alphabetic", "dx": 46.5, "dy": 16, "fontSize": 43.5, "font": "Liberation Serif", "fontWeight": "bold"}, "encoding": {"x": {"datum": 0}, "y": {"datum": 100}}},
 {"data": {"values": [{}]}, "mark": {"type": "text", "text": "+", "align": "left", "baseline": "alphabetic", "dx": 175, "dy": -3, "fontSize": 22, "font": "Liberation Serif", "fontWeight": "bold"}, "encoding": {"x": {"datum": 0}, "y": {"datum": 100}}},
 {"data": {"values": [{}]}, "mark": {"type": "text", "text": "415", "align": "left", "baseline": "alphabetic", "dx": 201.5, "dy": 16, "fontSize": 46, "font": "Liberation Serif", "fontWeight": "bold"}, "encoding": {"x": {"datum": 0}, "y": {"datum": 100}}},
 {"data": {"values": [{}]}, "mark": {"type": "text", "text": "%", "angle": 270, "align": "center", "baseline": "middle", "fontSize": 13}, "encoding": {"x": {"datum": -0.594}, "y": {"datum": 50}}}
]},
{"width": 1043, "height": 160, "layer": [
 {"data": {"name": "c2"}, "mark": {"type": "line", "color": "black", "strokeWidth": 1.1, "interpolate": "monotone"},
  "encoding": {"x": {"field": "t", "type": "quantitative", "scale": {"domain": [0, 40], "nice": false, "zero": false}, "axis": {"tickCount": 1000, "values": [0.5,1,1.5,2,2.5,3,3.5,4,4.5,5,5.5,6,6.5,7,7.5,8,8.5,9,9.5,10,10.5,11,11.5,12,12.5,13,13.5,14,14.5,15,15.5,16,16.5,17,17.5,18,18.5,19,19.5,20,20.5,21,21.5,22,22.5,23,23.5,24,24.5,25,25.5,26,26.5,27,27.5,28,28.5,29,29.5,30,30.5,31,31.5,32,32.5,33,33.5,34,34.5,35,35.5,36,36.5,37,37.5,38,38.5,39,39.5,40], "labelExpr": "datum.value % 2.5 == 0 ? replace(format(datum.value, '.2f'), '.', ',') : ''", "tickSize": {"condition": {"test": "datum.value % 2.5 == 0", "value": 6}, "value": 3}, "labelFontSize": 14, "labelPadding": 1, "labelFlush": false, "labelOverlap": false, "labelBound": false}},
   "y": {"field": "v", "type": "quantitative", "scale": {"domain": [0, 122.14], "nice": false, "zero": false}, "axis": {"tickCount": 1000, "values": [0,10,20,30,40,50,60,70,80,90,100], "labelExpr": "datum.value == 0 || datum.value == 100 ? format(datum.value, 'd') : ''", "tickSize": {"condition": {"test": "datum.value % 50 == 0", "value": 6}, "value": 3}, "labelFontSize": 13, "labelPadding": 1, "domain": false, "labelOverlap": false, "labelBound": false}}}},
 {"data": {"values": [{}]}, "mark": {"type": "rule", "color": "black"}, "encoding": {"x": {"datum": 0}, "y": {"datum": 0}, "y2": {"datum": 100}}},
 {"data": {"name": "k2"}, "mark": {"type": "rule", "color": "black"}, "encoding": {"x": {"field": "t", "type": "quantitative"}, "y": {"field": "v", "type": "quantitative"}, "x2": {"field": "t2"}, "y2": {"field": "v2"}}},
 {"data": {"name": "l2"}, "mark": {"type": "text", "fontSize": 17, "baseline": "alphabetic", "align": "center"}, "encoding": {"x": {"field": "t", "type": "quantitative"}, "y": {"field": "v", "type": "quantitative"}, "text": {"field": "label"}}},
 {"data": {"name": "a2"}, "mark": {"type": "rule", "color": "black", "strokeWidth": 2}, "encoding": {"x": {"field": "t", "type": "quantitative"}, "y": {"field": "v", "type": "quantitative"}, "x2": {"field": "t2"}, "y2": {"field": "v2"}}},
 {"data": {"name": "a2"}, "mark": {"type": "point", "shape": "M0,-1L0.6,1L-0.6,1Z", "filled": true, "opacity": 1, "color": "black", "size": 256, "angle": 244}, "encoding": {"x": {"field": "t2", "type": "quantitative"}, "y": {"field": "v2", "type": "quantitative"}}},
 {"data": {"values": [{}]}, "mark": {"type": "text", "text": "Time", "align": "left", "baseline": "middle", "dx": 8, "fontSize": 14}, "encoding": {"x": {"datum": 40}, "y": {"datum": 0}}},
 {"data": {"values": [{}]}, "mark": {"type": "text", "text": "PAT26_LCCIFSPa Sm (Mn, 4x2)", "align": "left", "baseline": "middle", "dx": -30.5, "dy": -28, "fontSize": 14, "color": "red"}, "encoding": {"x": {"datum": 0}, "y": {"datum": 100}}},
 {"data": {"values": [{}]}, "mark": {"type": "text", "text": "1: Scan AP+", "align": "right", "baseline": "middle", "dx": 66.5, "dy": -28, "fontSize": 14, "color": "red"}, "encoding": {"x": {"datum": 40}, "y": {"datum": 100}}},
 {"data": {"values": [{}]}, "mark": {"type": "text", "text": "461", "align": "right", "baseline": "middle", "dx": 43.5, "dy": -13, "fontSize": 14, "color": "red"}, "encoding": {"x": {"datum": 40}, "y": {"datum": 100}}},
 {"data": {"values": [{}]}, "mark": {"type": "text", "text": "5,56e6", "align": "right", "baseline": "middle", "dx": 43.5, "dy": 2, "fontSize": 14, "color": "red"}, "encoding": {"x": {"datum": 40}, "y": {"datum": 100}}},
 {"data": {"values": [{}]}, "mark": {"type": "text", "text": "[M+H]", "align": "left", "baseline": "alphabetic", "dx": 46.5, "dy": 18, "fontSize": 43.5, "font": "Liberation Serif", "fontWeight": "bold"}, "encoding": {"x": {"datum": 0}, "y": {"datum": 100}}},
 {"data": {"values": [{}]}, "mark": {"type": "text", "text": "+", "align": "left", "baseline": "alphabetic", "dx": 175, "dy": -1, "fontSize": 22, "font": "Liberation Serif", "fontWeight": "bold"}, "encoding": {"x": {"datum": 0}, "y": {"datum": 100}}},
 {"data": {"values": [{}]}, "mark": {"type": "text", "text": "461", "align": "left", "baseline": "alphabetic", "dx": 201.5, "dy": 18, "fontSize": 46, "font": "Liberation Serif", "fontWeight": "bold"}, "encoding": {"x": {"datum": 0}, "y": {"datum": 100}}},
 {"data": {"values": [{}]}, "mark": {"type": "text", "text": "%", "angle": 270, "align": "center", "baseline": "middle", "fontSize": 13}, "encoding": {"x": {"datum": -0.594}, "y": {"datum": 50}}}
]},
{"width": 1043, "height": 153, "layer": [
 {"data": {"name": "c3"}, "mark": {"type": "line", "color": "black", "strokeWidth": 1.1, "interpolate": "monotone"},
  "encoding": {"x": {"field": "t", "type": "quantitative", "scale": {"domain": [0, 40], "nice": false, "zero": false}, "axis": {"tickCount": 1000, "values": [0.5,1,1.5,2,2.5,3,3.5,4,4.5,5,5.5,6,6.5,7,7.5,8,8.5,9,9.5,10,10.5,11,11.5,12,12.5,13,13.5,14,14.5,15,15.5,16,16.5,17,17.5,18,18.5,19,19.5,20,20.5,21,21.5,22,22.5,23,23.5,24,24.5,25,25.5,26,26.5,27,27.5,28,28.5,29,29.5,30,30.5,31,31.5,32,32.5,33,33.5,34,34.5,35,35.5,36,36.5,37,37.5,38,38.5,39,39.5,40], "labelExpr": "datum.value % 2.5 == 0 ? replace(format(datum.value, '.2f'), '.', ',') : ''", "tickSize": {"condition": {"test": "datum.value % 2.5 == 0", "value": 6}, "value": 3}, "labelFontSize": 14, "labelPadding": 1, "labelFlush": false, "labelOverlap": false, "labelBound": false}},
   "y": {"field": "v", "type": "quantitative", "scale": {"domain": [0, 116.79], "nice": false, "zero": false}, "axis": {"tickCount": 1000, "values": [0,10,20,30,40,50,60,70,80,90,100], "labelExpr": "datum.value == 0 || datum.value == 100 ? format(datum.value, 'd') : ''", "tickSize": {"condition": {"test": "datum.value % 50 == 0", "value": 6}, "value": 3}, "labelFontSize": 13, "labelPadding": 1, "domain": false, "labelOverlap": false, "labelBound": false}}}},
 {"data": {"values": [{}]}, "mark": {"type": "rule", "color": "black"}, "encoding": {"x": {"datum": 0}, "y": {"datum": 0}, "y2": {"datum": 100}}},
 {"data": {"name": "k3"}, "mark": {"type": "rule", "color": "black"}, "encoding": {"x": {"field": "t", "type": "quantitative"}, "y": {"field": "v", "type": "quantitative"}, "x2": {"field": "t2"}, "y2": {"field": "v2"}}},
 {"data": {"name": "l3"}, "mark": {"type": "text", "fontSize": 17, "baseline": "alphabetic", "align": "center"}, "encoding": {"x": {"field": "t", "type": "quantitative"}, "y": {"field": "v", "type": "quantitative"}, "text": {"field": "label"}}},
 {"data": {"name": "a3"}, "mark": {"type": "rule", "color": "black", "strokeWidth": 2}, "encoding": {"x": {"field": "t", "type": "quantitative"}, "y": {"field": "v", "type": "quantitative"}, "x2": {"field": "t2"}, "y2": {"field": "v2"}}},
 {"data": {"name": "a3"}, "mark": {"type": "point", "shape": "M0,-1L0.6,1L-0.6,1Z", "filled": true, "opacity": 1, "color": "black", "size": 256, "angle": 238}, "encoding": {"x": {"field": "t2", "type": "quantitative"}, "y": {"field": "v2", "type": "quantitative"}}},
 {"data": {"values": [{}]}, "mark": {"type": "text", "text": "PAT26_LCCIFSPa Sm (Mn, 4x2)", "align": "left", "baseline": "middle", "dx": -30.5, "dy": -28, "fontSize": 14, "color": "#119911"}, "encoding": {"x": {"datum": 0}, "y": {"datum": 100}}},
 {"data": {"values": [{}]}, "mark": {"type": "text", "text": "1: Scan AP+", "align": "right", "baseline": "middle", "dx": 66.5, "dy": -28, "fontSize": 14, "color": "#119911"}, "encoding": {"x": {"datum": 40}, "y": {"datum": 100}}},
 {"data": {"values": [{}]}, "mark": {"type": "text", "text": "427", "align": "right", "baseline": "middle", "dx": 43.5, "dy": -12, "fontSize": 14, "color": "#119911"}, "encoding": {"x": {"datum": 40}, "y": {"datum": 100}}},
 {"data": {"values": [{}]}, "mark": {"type": "text", "text": "1,84e7", "align": "right", "baseline": "middle", "dx": 43.5, "dy": 3, "fontSize": 14, "color": "#119911"}, "encoding": {"x": {"datum": 40}, "y": {"datum": 100}}},
 {"data": {"values": [{}]}, "mark": {"type": "text", "text": "[M+H]", "align": "left", "baseline": "alphabetic", "dx": 46.5, "dy": 30, "fontSize": 43.5, "font": "Liberation Serif", "fontWeight": "bold"}, "encoding": {"x": {"datum": 0}, "y": {"datum": 100}}},
 {"data": {"values": [{}]}, "mark": {"type": "text", "text": "+", "align": "left", "baseline": "alphabetic", "dx": 175, "dy": 11, "fontSize": 22, "font": "Liberation Serif", "fontWeight": "bold"}, "encoding": {"x": {"datum": 0}, "y": {"datum": 100}}},
 {"data": {"values": [{}]}, "mark": {"type": "text", "text": "427", "align": "left", "baseline": "alphabetic", "dx": 201.5, "dy": 30, "fontSize": 46, "font": "Liberation Serif", "fontWeight": "bold"}, "encoding": {"x": {"datum": 0}, "y": {"datum": 100}}},
 {"data": {"values": [{}]}, "mark": {"type": "text", "text": "%", "angle": 270, "align": "center", "baseline": "middle", "fontSize": 13}, "encoding": {"x": {"datum": -0.594}, "y": {"datum": 50}}}
]},
{"width": 1043, "height": 159, "layer": [
 {"data": {"name": "c4"}, "mark": {"type": "line", "color": "black", "strokeWidth": 1.1, "interpolate": "monotone"},
  "encoding": {"x": {"field": "t", "type": "quantitative", "scale": {"domain": [0, 40], "nice": false, "zero": false}, "axis": {"tickCount": 1000, "values": [0.5,1,1.5,2,2.5,3,3.5,4,4.5,5,5.5,6,6.5,7,7.5,8,8.5,9,9.5,10,10.5,11,11.5,12,12.5,13,13.5,14,14.5,15,15.5,16,16.5,17,17.5,18,18.5,19,19.5,20,20.5,21,21.5,22,22.5,23,23.5,24,24.5,25,25.5,26,26.5,27,27.5,28,28.5,29,29.5,30,30.5,31,31.5,32,32.5,33,33.5,34,34.5,35,35.5,36,36.5,37,37.5,38,38.5,39,39.5,40], "labelExpr": "datum.value % 2.5 == 0 ? replace(format(datum.value, '.2f'), '.', ',') : ''", "tickSize": {"condition": {"test": "datum.value % 2.5 == 0", "value": 6}, "value": 3}, "labelFontSize": 14, "labelPadding": 1, "labelFlush": false, "labelOverlap": false, "labelBound": false}},
   "y": {"field": "v", "type": "quantitative", "scale": {"domain": [0, 121.37], "nice": false, "zero": false}, "axis": {"tickCount": 1000, "values": [0,10,20,30,40,50,60,70,80,90,100], "labelExpr": "datum.value == 0 || datum.value == 100 ? format(datum.value, 'd') : ''", "tickSize": {"condition": {"test": "datum.value % 50 == 0", "value": 6}, "value": 3}, "labelFontSize": 13, "labelPadding": 1, "domain": false, "labelOverlap": false, "labelBound": false}}}},
 {"data": {"values": [{}]}, "mark": {"type": "rule", "color": "black"}, "encoding": {"x": {"datum": 0}, "y": {"datum": 0}, "y2": {"datum": 100}}},
 {"data": {"name": "k4"}, "mark": {"type": "rule", "color": "black"}, "encoding": {"x": {"field": "t", "type": "quantitative"}, "y": {"field": "v", "type": "quantitative"}, "x2": {"field": "t2"}, "y2": {"field": "v2"}}},
 {"data": {"name": "l4"}, "mark": {"type": "text", "fontSize": 17, "baseline": "alphabetic", "align": "center"}, "encoding": {"x": {"field": "t", "type": "quantitative"}, "y": {"field": "v", "type": "quantitative"}, "text": {"field": "label"}}},
 {"data": {"name": "a4"}, "mark": {"type": "rule", "color": "black", "strokeWidth": 2}, "encoding": {"x": {"field": "t", "type": "quantitative"}, "y": {"field": "v", "type": "quantitative"}, "x2": {"field": "t2"}, "y2": {"field": "v2"}}},
 {"data": {"name": "a4"}, "mark": {"type": "point", "shape": "M0,-1L0.6,1L-0.6,1Z", "filled": true, "opacity": 1, "color": "black", "size": 256, "angle": 250}, "encoding": {"x": {"field": "t2", "type": "quantitative"}, "y": {"field": "v2", "type": "quantitative"}}},
 {"data": {"values": [{}]}, "mark": {"type": "square", "color": "red", "size": 64, "opacity": 1}, "encoding": {"x": {"datum": -1.016}, "y": {"datum": 50}}},
 {"data": {"values": [{}]}, "mark": {"type": "text", "text": "PAT26_LCCIFSPa Sm (Mn, 4x2)", "align": "left", "baseline": "middle", "dx": -30.5, "dy": -28, "fontSize": 14, "color": "red"}, "encoding": {"x": {"datum": 0}, "y": {"datum": 100}}},
 {"data": {"values": [{}]}, "mark": {"type": "text", "text": "1: Scan AP+", "align": "right", "baseline": "middle", "dx": 66.5, "dy": -28, "fontSize": 14, "color": "red"}, "encoding": {"x": {"datum": 40}, "y": {"datum": 100}}},
 {"data": {"values": [{}]}, "mark": {"type": "text", "text": "499", "align": "right", "baseline": "middle", "dx": 43.5, "dy": -12, "fontSize": 14, "color": "red"}, "encoding": {"x": {"datum": 40}, "y": {"datum": 100}}},
 {"data": {"values": [{}]}, "mark": {"type": "text", "text": "3,27e6", "align": "right", "baseline": "middle", "dx": 43.5, "dy": 3, "fontSize": 14, "color": "red"}, "encoding": {"x": {"datum": 40}, "y": {"datum": 100}}},
 {"data": {"values": [{}]}, "mark": {"type": "text", "text": "[M+H]", "align": "left", "baseline": "alphabetic", "dx": 46.5, "dy": 35, "fontSize": 43.5, "font": "Liberation Serif", "fontWeight": "bold"}, "encoding": {"x": {"datum": 0}, "y": {"datum": 100}}},
 {"data": {"values": [{}]}, "mark": {"type": "text", "text": "+", "align": "left", "baseline": "alphabetic", "dx": 175, "dy": 16, "fontSize": 22, "font": "Liberation Serif", "fontWeight": "bold"}, "encoding": {"x": {"datum": 0}, "y": {"datum": 100}}},
 {"data": {"values": [{}]}, "mark": {"type": "text", "text": "499", "align": "left", "baseline": "alphabetic", "dx": 201.5, "dy": 35, "fontSize": 46, "font": "Liberation Serif", "fontWeight": "bold"}, "encoding": {"x": {"datum": 0}, "y": {"datum": 100}}},
 {"data": {"values": [{}]}, "mark": {"type": "text", "text": "%", "angle": 270, "align": "center", "baseline": "middle", "fontSize": 13}, "encoding": {"x": {"datum": -0.594}, "y": {"datum": 50}}}
]},
{"width": 1043, "height": 160, "layer": [
 {"data": {"name": "c5"}, "mark": {"type": "line", "color": "black", "strokeWidth": 1.1, "interpolate": "monotone"},
  "encoding": {"x": {"field": "t", "type": "quantitative", "scale": {"domain": [0, 40], "nice": false, "zero": false}, "axis": {"tickCount": 1000, "values": [0.5,1,1.5,2,2.5,3,3.5,4,4.5,5,5.5,6,6.5,7,7.5,8,8.5,9,9.5,10,10.5,11,11.5,12,12.5,13,13.5,14,14.5,15,15.5,16,16.5,17,17.5,18,18.5,19,19.5,20,20.5,21,21.5,22,22.5,23,23.5,24,24.5,25,25.5,26,26.5,27,27.5,28,28.5,29,29.5,30,30.5,31,31.5,32,32.5,33,33.5,34,34.5,35,35.5,36,36.5,37,37.5,38,38.5,39,39.5,40], "labelExpr": "datum.value % 2.5 == 0 ? replace(format(datum.value, '.2f'), '.', ',') : ''", "tickSize": {"condition": {"test": "datum.value % 2.5 == 0", "value": 6}, "value": 3}, "labelFontSize": 14, "labelPadding": 1, "labelFlush": false, "labelOverlap": false, "labelBound": false}},
   "y": {"field": "v", "type": "quantitative", "scale": {"domain": [0, 122.14], "nice": false, "zero": false}, "axis": {"tickCount": 1000, "values": [0,10,20,30,40,50,60,70,80,90,100], "labelExpr": "datum.value == 0 || datum.value == 100 ? format(datum.value, 'd') : ''", "tickSize": {"condition": {"test": "datum.value % 50 == 0", "value": 6}, "value": 3}, "labelFontSize": 13, "labelPadding": 1, "domain": false, "labelOverlap": false, "labelBound": false}}}},
 {"data": {"values": [{}]}, "mark": {"type": "rule", "color": "black"}, "encoding": {"x": {"datum": 0}, "y": {"datum": 0}, "y2": {"datum": 100}}},
 {"data": {"name": "k5"}, "mark": {"type": "rule", "color": "black"}, "encoding": {"x": {"field": "t", "type": "quantitative"}, "y": {"field": "v", "type": "quantitative"}, "x2": {"field": "t2"}, "y2": {"field": "v2"}}},
 {"data": {"values": [{}]}, "mark": {"type": "text", "text": "[M+H]", "align": "left", "baseline": "alphabetic", "dx": 46.5, "dy": 40, "fontSize": 43.5, "font": "Liberation Serif", "fontWeight": "bold"}, "encoding": {"x": {"datum": 0}, "y": {"datum": 100}}},
 {"data": {"values": [{}]}, "mark": {"type": "text", "text": "+", "align": "left", "baseline": "alphabetic", "dx": 175, "dy": 21, "fontSize": 22, "font": "Liberation Serif", "fontWeight": "bold"}, "encoding": {"x": {"datum": 0}, "y": {"datum": 100}}},
 {"data": {"values": [{}]}, "mark": {"type": "text", "text": "557", "align": "left", "baseline": "alphabetic", "dx": 201.5, "dy": 40, "fontSize": 46, "font": "Liberation Serif", "fontWeight": "bold"}, "encoding": {"x": {"datum": 0}, "y": {"datum": 100}}},
 {"data": {"name": "l5"}, "mark": {"type": "text", "fontSize": 17, "baseline": "alphabetic", "align": "center"}, "encoding": {"x": {"field": "t", "type": "quantitative"}, "y": {"field": "v", "type": "quantitative"}, "text": {"field": "label"}}},
 {"data": {"name": "a5"}, "mark": {"type": "rule", "color": "black", "strokeWidth": 2}, "encoding": {"x": {"field": "t", "type": "quantitative"}, "y": {"field": "v", "type": "quantitative"}, "x2": {"field": "t2"}, "y2": {"field": "v2"}}},
 {"data": {"name": "a5"}, "mark": {"type": "point", "shape": "M0,-1L0.6,1L-0.6,1Z", "filled": true, "opacity": 1, "color": "black", "size": 256, "angle": 243}, "encoding": {"x": {"field": "t2", "type": "quantitative"}, "y": {"field": "v2", "type": "quantitative"}}},
 {"data": {"values": [{}]}, "mark": {"type": "text", "text": "PAT26_LCCIFSPa Sm (Mn, 4x2)", "align": "left", "baseline": "middle", "dx": -30.5, "dy": -28, "fontSize": 14, "color": "red"}, "encoding": {"x": {"datum": 0}, "y": {"datum": 100}}},
 {"data": {"values": [{}]}, "mark": {"type": "text", "text": "1: Scan AP+", "align": "right", "baseline": "middle", "dx": 66.5, "dy": -28, "fontSize": 14, "color": "red"}, "encoding": {"x": {"datum": 40}, "y": {"datum": 100}}},
 {"data": {"values": [{}]}, "mark": {"type": "text", "text": "557", "align": "right", "baseline": "middle", "dx": 43.5, "dy": -12, "fontSize": 14, "color": "red"}, "encoding": {"x": {"datum": 40}, "y": {"datum": 100}}},
 {"data": {"values": [{}]}, "mark": {"type": "text", "text": "9,16e6", "align": "right", "baseline": "middle", "dx": 43.5, "dy": 3, "fontSize": 14, "color": "red"}, "encoding": {"x": {"datum": 40}, "y": {"datum": 100}}},
 {"data": {"values": [{}]}, "mark": {"type": "text", "text": "%", "angle": 270, "align": "center", "baseline": "middle", "fontSize": 13}, "encoding": {"x": {"datum": -0.594}, "y": {"datum": 50}}}
]},
{"width": 1067, "height": 173, "layer": [
 {"data": {"name": "c6"}, "mark": {"type": "line", "color": "black", "strokeWidth": 1.1, "interpolate": "monotone"},
  "encoding": {"x": {"field": "t", "type": "quantitative", "scale": {"domain": [0, 40], "nice": false, "zero": false}, "axis": {"tickCount": 1000, "values": [0.5,1,1.5,2,2.5,3,3.5,4,4.5,5,5.5,6,6.5,7,7.5,8,8.5,9,9.5,10,10.5,11,11.5,12,12.5,13,13.5,14,14.5,15,15.5,16,16.5,17,17.5,18,18.5,19,19.5,20,20.5,21,21.5,22,22.5,23,23.5,24,24.5,25,25.5,26,26.5,27,27.5,28,28.5,29,29.5,30,30.5,31,31.5,32,32.5,33,33.5,34,34.5,35,35.5,36,36.5,37,37.5,38,38.5,39,39.5,40], "labelExpr": "datum.value % 2.5 == 0 ? replace(format(datum.value, '.2f'), '.', ',') : ''", "tickSize": {"condition": {"test": "datum.value % 2.5 == 0", "value": 6}, "value": 3}, "labelFontSize": 14, "labelPadding": 1, "labelFlush": false, "labelOverlap": false, "labelBound": false}},
   "y": {"field": "v", "type": "quantitative", "scale": {"domain": [0, 131.06], "nice": false, "zero": false}, "axis": {"tickCount": 1000, "values": [0,10,20,30,40,50,60,70,80,90,100], "labelExpr": "datum.value == 0 || datum.value == 100 ? format(datum.value, 'd') : ''", "tickSize": {"condition": {"test": "datum.value % 50 == 0", "value": 6}, "value": 3}, "labelFontSize": 13, "labelPadding": 1, "domain": false, "labelOverlap": false, "labelBound": false}}}},
 {"data": {"values": [{}]}, "mark": {"type": "rule", "color": "black"}, "encoding": {"x": {"datum": 0}, "y": {"datum": 0}, "y2": {"datum": 100}}},
 {"data": {"name": "k6"}, "mark": {"type": "rule", "color": "black"}, "encoding": {"x": {"field": "t", "type": "quantitative"}, "y": {"field": "v", "type": "quantitative"}, "x2": {"field": "t2"}, "y2": {"field": "v2"}}},
 {"data": {"name": "l6"}, "mark": {"type": "text", "fontSize": 17, "baseline": "alphabetic", "align": "center"}, "encoding": {"x": {"field": "t", "type": "quantitative"}, "y": {"field": "v", "type": "quantitative"}, "text": {"field": "label"}}},
 {"data": {"values": [{}]}, "mark": {"type": "text", "text": "Time", "align": "left", "baseline": "middle", "dx": 8, "fontSize": 14}, "encoding": {"x": {"datum": 40}, "y": {"datum": 0}}},
 {"data": {"values": [{}]}, "mark": {"type": "text", "text": "PAT26_LCCIFSPa Sm (Mn, 4x2)", "align": "left", "baseline": "middle", "dx": -30.5, "dy": -29, "fontSize": 14, "color": "red"}, "encoding": {"x": {"datum": 0}, "y": {"datum": 100}}},
 {"data": {"values": [{}]}, "mark": {"type": "text", "text": "1: Scan AP+", "align": "right", "baseline": "middle", "dx": 42, "dy": -29, "fontSize": 14, "color": "red"}, "encoding": {"x": {"datum": 40}, "y": {"datum": 100}}},
 {"data": {"values": [{}]}, "mark": {"type": "text", "text": "445", "align": "right", "baseline": "middle", "dx": 43, "dy": -13, "fontSize": 14, "color": "red"}, "encoding": {"x": {"datum": 40}, "y": {"datum": 100}}},
 {"data": {"values": [{}]}, "mark": {"type": "text", "text": "1,87e6", "align": "right", "baseline": "middle", "dx": 43, "dy": 3, "fontSize": 14, "color": "red"}, "encoding": {"x": {"datum": 40}, "y": {"datum": 100}}},
 {"data": {"values": [{}]}, "mark": {"type": "text", "text": "[M+H]", "align": "left", "baseline": "alphabetic", "dx": 44.5, "dy": 18, "fontSize": 43.5, "font": "Liberation Serif", "fontWeight": "bold"}, "encoding": {"x": {"datum": 0}, "y": {"datum": 100}}},
 {"data": {"values": [{}]}, "mark": {"type": "text", "text": "+", "align": "left", "baseline": "alphabetic", "dx": 173, "dy": -1, "fontSize": 22, "font": "Liberation Serif", "fontWeight": "bold"}, "encoding": {"x": {"datum": 0}, "y": {"datum": 100}}},
 {"data": {"values": [{}]}, "mark": {"type": "text", "text": "445", "align": "left", "baseline": "alphabetic", "dx": 200, "dy": 18, "fontSize": 46, "font": "Liberation Serif", "fontWeight": "bold"}, "encoding": {"x": {"datum": 0}, "y": {"datum": 100}}},
 {"data": {"values": [{}]}, "mark": {"type": "text", "text": "%", "angle": 270, "align": "center", "baseline": "middle", "fontSize": 13}, "encoding": {"x": {"datum": -0.58}, "y": {"datum": 50}}}
]},
{"width": 1080, "height": 150, "layer": [
 {"data": {"name": "s7"}, "mark": {"type": "rule", "color": "black", "strokeWidth": 1},
  "encoding": {"x": {"field": "mz", "type": "quantitative", "scale": {"domain": [200, 627], "nice": false, "zero": false}, "axis": {"tickCount": 1000, "values": [200,205,210,215,220,225,230,235,240,245,250,255,260,265,270,275,280,285,290,295,300,305,310,315,320,325,330,335,340,345,350,355,360,365,370,375,380,385,390,395,400,405,410,415,420,425,430,435,440,445,450,455,460,465,470,475,480,485,490,495,500,505,510,515,520,525,530,535,540,545,550,555,560,565,570,575,580,585,590,595,600,605,610,615,620,625], "labelExpr": "datum.value % 20 == 0 ? format(datum.value, 'd') : ''", "tickSize": {"condition": {"test": "datum.value % 20 == 0", "value": 6}, "value": 3}, "labelFontSize": 14, "labelPadding": 1, "labelFlush": false, "labelOverlap": false, "labelBound": false}},
   "y": {"field": "v", "type": "quantitative", "scale": {"domain": [0, 126.05], "nice": false, "zero": false}, "axis": {"tickCount": 1000, "values": [0,10,20,30,40,50,60,70,80,90,100], "labelExpr": "datum.value == 0 || datum.value == 100 ? format(datum.value, 'd') : ''", "tickSize": {"condition": {"test": "datum.value % 50 == 0", "value": 6}, "value": 3}, "labelFontSize": 13, "labelPadding": 1, "domain": false, "labelOverlap": false, "labelBound": false}},
   "y2": {"datum": 0}}},
 {"data": {"values": [{}]}, "mark": {"type": "rule", "color": "black"}, "encoding": {"x": {"datum": 200}, "y": {"datum": 0}, "y2": {"datum": 100}}},
 {"data": {"name": "l7"}, "mark": {"type": "text", "fontSize": 17, "baseline": "alphabetic", "align": "center"}, "encoding": {"x": {"field": "mz", "type": "quantitative"}, "y": {"field": "v", "type": "quantitative"}, "text": {"field": "label"}}},
 {"data": {"name": "a7"}, "mark": {"type": "rule", "color": "red", "strokeWidth": 3}, "encoding": {"x": {"field": "mz", "type": "quantitative"}, "y": {"field": "v", "type": "quantitative"}, "x2": {"field": "mz2"}, "y2": {"field": "v2"}}},
 {"data": {"name": "a7"}, "mark": {"type": "point", "shape": "M0,-1L0.6,1L-0.6,1Z", "filled": true, "opacity": 1, "color": "red", "size": 324, "angle": 247}, "encoding": {"x": {"field": "mz2", "type": "quantitative"}, "y": {"field": "v2", "type": "quantitative"}}},
 {"data": {"values": [{}]}, "mark": {"type": "text", "text": "m/z", "align": "left", "baseline": "middle", "dx": 4, "fontSize": 14}, "encoding": {"x": {"datum": 627}, "y": {"datum": 0}}},
 {"data": {"values": [{}]}, "mark": {"type": "text", "text": "PAT26_LCCIFSPa 628 (21,320) Sm (Mn, 4x1,00); Cm (609:628-(524:578+658:706))", "align": "left", "baseline": "middle", "dx": -30.5, "dy": -28, "fontSize": 14, "color": "#119911"}, "encoding": {"x": {"datum": 200}, "y": {"datum": 100}}},
 {"data": {"values": [{}]}, "mark": {"type": "text", "text": "1: Scan AP+", "align": "right", "baseline": "middle", "dx": 30, "dy": -28, "fontSize": 14, "color": "#119911"}, "encoding": {"x": {"datum": 627}, "y": {"datum": 100}}},
 {"data": {"values": [{}]}, "mark": {"type": "text", "text": "3,76e5", "align": "right", "baseline": "middle", "dx": 30, "dy": -12, "fontSize": 14, "color": "#119911"}, "encoding": {"x": {"datum": 627}, "y": {"datum": 100}}},
 {"data": {"values": [{}]}, "mark": {"type": "text", "text": "[M+H]", "align": "left", "baseline": "alphabetic", "dx": 46.5, "dy": 21, "fontSize": 43.5, "font": "Liberation Serif", "fontWeight": "bold"}, "encoding": {"x": {"datum": 200}, "y": {"datum": 100}}},
 {"data": {"values": [{}]}, "mark": {"type": "text", "text": "+", "align": "left", "baseline": "alphabetic", "dx": 175, "dy": 2, "fontSize": 22, "font": "Liberation Serif", "fontWeight": "bold"}, "encoding": {"x": {"datum": 200}, "y": {"datum": 100}}},
 {"data": {"values": [{}]}, "mark": {"type": "text", "text": "461", "align": "left", "baseline": "alphabetic", "dx": 201.5, "dy": 21, "fontSize": 46, "font": "Liberation Serif", "fontWeight": "bold"}, "encoding": {"x": {"datum": 200}, "y": {"datum": 100}}},
 {"data": {"values": [{}]}, "mark": {"type": "text", "text": "%", "angle": 270, "align": "center", "baseline": "middle", "fontSize": 13}, "encoding": {"x": {"datum": 193.9}, "y": {"datum": 50}}}
]},
{"width": 1080, "height": 154, "layer": [
 {"data": {"name": "s8"}, "mark": {"type": "rule", "color": "black", "strokeWidth": 1},
  "encoding": {"x": {"field": "mz", "type": "quantitative", "scale": {"domain": [200, 627], "nice": false, "zero": false}, "axis": {"tickCount": 1000, "values": [200,205,210,215,220,225,230,235,240,245,250,255,260,265,270,275,280,285,290,295,300,305,310,315,320,325,330,335,340,345,350,355,360,365,370,375,380,385,390,395,400,405,410,415,420,425,430,435,440,445,450,455,460,465,470,475,480,485,490,495,500,505,510,515,520,525,530,535,540,545,550,555,560,565,570,575,580,585,590,595,600,605,610,615,620,625], "labels": false, "tickSize": {"condition": {"test": "datum.value % 20 == 0", "value": 6}, "value": 3}}},
   "y": {"field": "v", "type": "quantitative", "scale": {"domain": [0, 128.33], "nice": false, "zero": false}, "axis": {"tickCount": 1000, "values": [0,10,20,30,40,50,60,70,80,90,100], "labelExpr": "datum.value == 0 || datum.value == 100 ? format(datum.value, 'd') : ''", "tickSize": {"condition": {"test": "datum.value % 50 == 0", "value": 6}, "value": 3}, "labelFontSize": 13, "labelPadding": 1, "domain": false, "labelOverlap": false, "labelBound": false}},
   "y2": {"datum": 0}}},
 {"data": {"values": [{}]}, "mark": {"type": "rule", "color": "black"}, "encoding": {"x": {"datum": 200}, "y": {"datum": 0}, "y2": {"datum": 100}}},
 {"data": {"name": "l8"}, "mark": {"type": "text", "fontSize": 17, "baseline": "alphabetic", "align": "center"}, "encoding": {"x": {"field": "mz", "type": "quantitative"}, "y": {"field": "v", "type": "quantitative"}, "text": {"field": "label"}}},
 {"data": {"values": [{}]}, "mark": {"type": "point", "shape": "M-1,0A1,0.54,0,1,0,1,0A1,0.54,0,1,0,-1,0Z", "filled": false, "opacity": 1, "color": "red", "strokeWidth": 2.5, "size": 5476}, "encoding": {"x": {"datum": 428.3}, "y": {"datum": 109.2}}},
 {"data": {"values": [{}]}, "mark": {"type": "square", "color": "red", "size": 64, "opacity": 1}, "encoding": {"x": {"datum": 189.5}, "y": {"datum": 50}}},
 {"data": {"values": [{}]}, "mark": {"type": "text", "text": "PAT26_LCCIFSPa 628 (21,320) Sm (Mn, 4x1,00); Cm (615:636-(543:595+662:738))", "align": "left", "baseline": "middle", "dx": -30.5, "dy": -29, "fontSize": 14, "color": "red"}, "encoding": {"x": {"datum": 200}, "y": {"datum": 100}}},
 {"data": {"values": [{}]}, "mark": {"type": "text", "text": "1: Scan AP+", "align": "right", "baseline": "middle", "dx": 30, "dy": -29, "fontSize": 14, "color": "red"}, "encoding": {"x": {"datum": 627}, "y": {"datum": 100}}},
 {"data": {"values": [{}]}, "mark": {"type": "text", "text": "4,29e5", "align": "right", "baseline": "middle", "dx": 30, "dy": -13, "fontSize": 14, "color": "red"}, "encoding": {"x": {"datum": 627}, "y": {"datum": 100}}},
 {"data": {"values": [{}]}, "mark": {"type": "text", "text": "[M+H]", "align": "left", "baseline": "alphabetic", "dx": 46.5, "dy": 21, "fontSize": 43.5, "font": "Liberation Serif", "fontWeight": "bold"}, "encoding": {"x": {"datum": 200}, "y": {"datum": 100}}},
 {"data": {"values": [{}]}, "mark": {"type": "text", "text": "+", "align": "left", "baseline": "alphabetic", "dx": 175, "dy": 2, "fontSize": 22, "font": "Liberation Serif", "fontWeight": "bold"}, "encoding": {"x": {"datum": 200}, "y": {"datum": 100}}},
 {"data": {"values": [{}]}, "mark": {"type": "text", "text": "427", "align": "left", "baseline": "alphabetic", "dx": 201.5, "dy": 21, "fontSize": 46, "font": "Liberation Serif", "fontWeight": "bold"}, "encoding": {"x": {"datum": 200}, "y": {"datum": 100}}},
 {"data": {"values": [{}]}, "mark": {"type": "text", "text": "%", "angle": 270, "align": "center", "baseline": "middle", "fontSize": 13}, "encoding": {"x": {"datum": 193.9}, "y": {"datum": 50}}}
]}
]
}
